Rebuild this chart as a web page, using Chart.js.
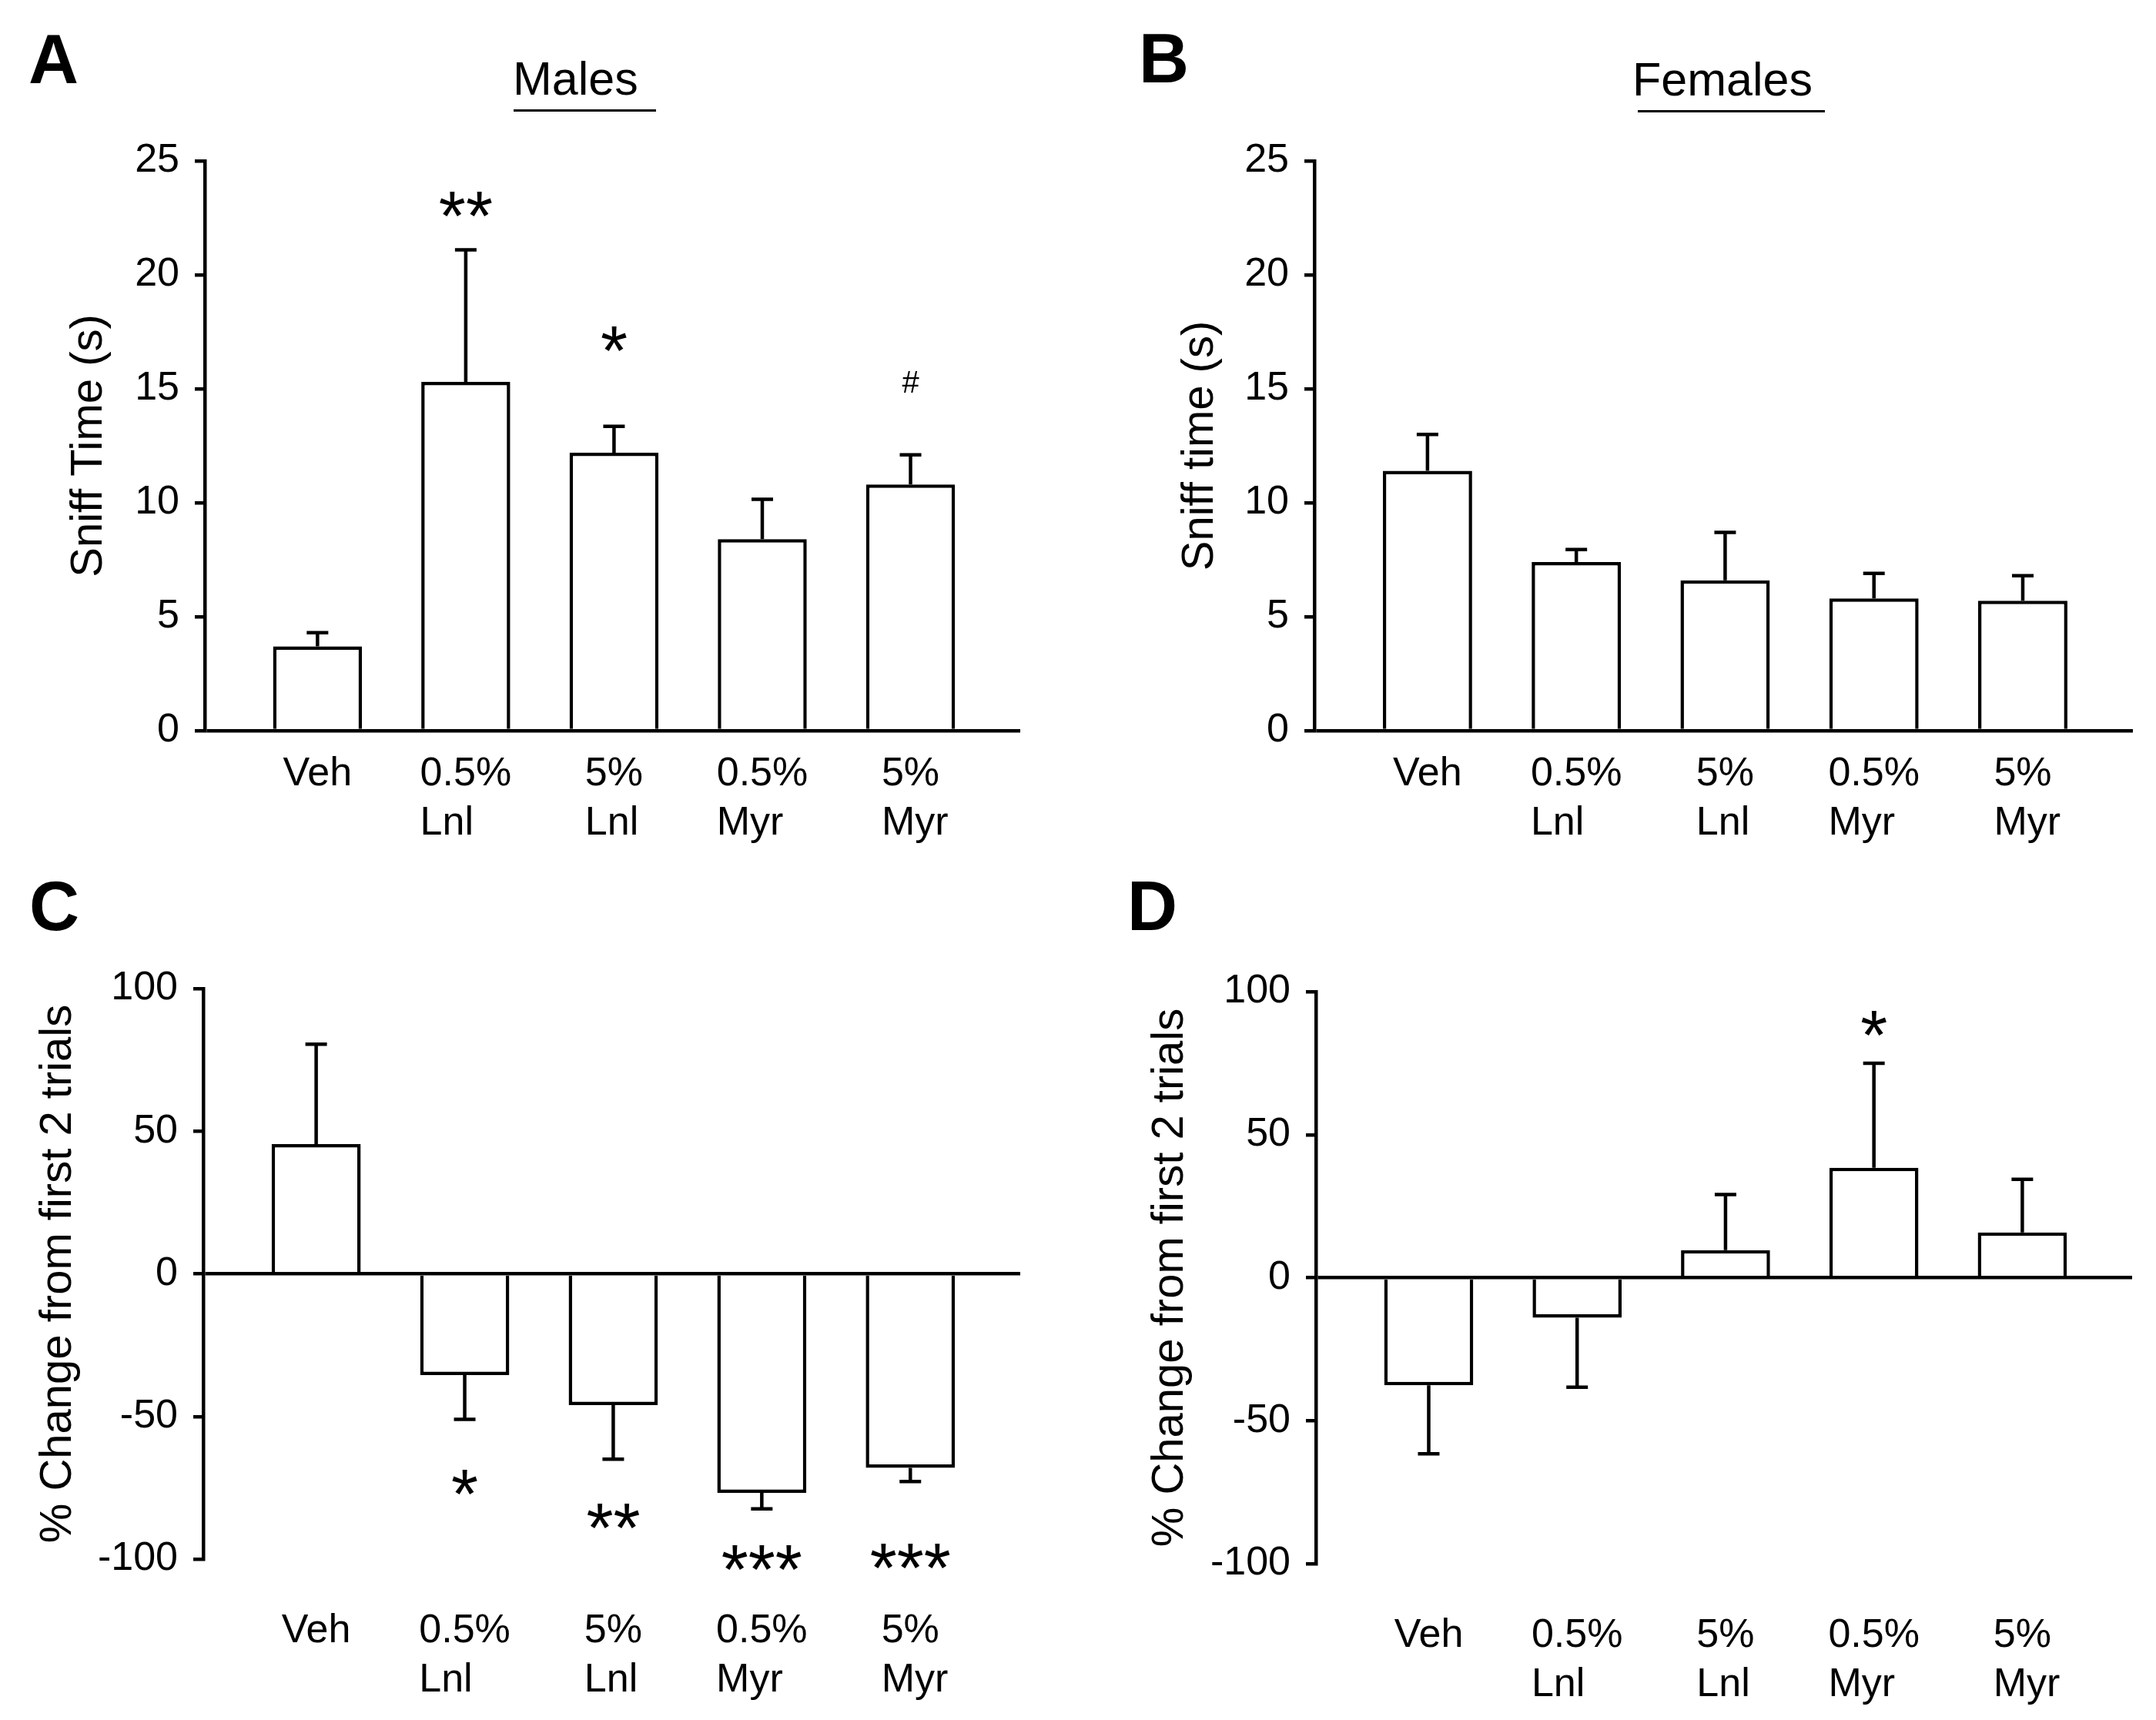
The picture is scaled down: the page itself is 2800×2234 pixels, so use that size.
<!DOCTYPE html>
<html>
<head>
<meta charset="utf-8">
<script src="https://cdn.jsdelivr.net/npm/chart.js@4.4.1/dist/chart.umd.min.js"></script>
<style>
  html, body { margin: 0; padding: 0; background: #fff; }
  body { width: 2800px; height: 2234px; position: relative; overflow: hidden;
         font-family: "Liberation Sans", Arial, sans-serif; color: #000; }
  canvas { position: absolute; }
  .letter { position: absolute; font-weight: bold; font-size: 90px; line-height: 1; }
  .title { position: absolute; font-size: 61px; line-height: 1; white-space: nowrap; }
  .rule { position: absolute; height: 3px; background: #000; }
</style>
</head>
<body>
<div class="letter" style="left:37px;top:32px">A</div>
<div class="letter" style="left:1479px;top:31px">B</div>
<div class="letter" style="left:38px;top:1132px">C</div>
<div class="letter" style="left:1464px;top:1132px">D</div>
<div class="title" style="left:666px;top:72px">Males</div>
<div class="rule" style="left:667px;top:142px;width:185px"></div>
<div class="title" style="left:2120px;top:73px">Females</div>
<div class="rule" style="left:2127px;top:143px;width:243px"></div>

<canvas id="chartA" width="1400" height="1117" style="left:0;top:0"></canvas>
<canvas id="chartB" width="1400" height="1117" style="left:1400px;top:0"></canvas>
<canvas id="chartC" width="1400" height="1117" style="left:0;top:1117px"></canvas>
<canvas id="chartD" width="1400" height="1117" style="left:1400px;top:1117px"></canvas>

<script>
const categories = [['Veh'], ['0.5%', 'Lnl'], ['5%', 'Lnl'], ['0.5%', 'Myr'], ['5%', 'Myr']];

// sniff time (s), mean and SEM
const maleSniff = [3.7, 15.3, 12.2, 8.4, 10.8];
const maleSniffErr = [0.6, 5.8, 1.15, 1.75, 1.3];
const femaleSniff = [11.4, 7.4, 6.6, 5.8, 5.7];
const femaleSniffErr = [1.6, 0.55, 2.1, 1.1, 1.1];

// % change from first 2 trials
const maleChange = [45.5, -35.5, -46, -76.8, -68];
const maleChangeErr = [35, 15.5, 19, 5.6, 4.8];
const femaleChange = [-37.6, -14, 9.6, 38.4, 15.8];
const femaleChangeErr = [24, 24.3, 19.5, 36.6, 18.6];

// significance marks and the value they sit at
const maleSniffMarks = ['', '**', '*', '', '#'];
const maleSniffMarkY = [null, 23.1, 17.2, null, 15.3];
const femaleSniffMarks = ['', '', '', '', ''];
const femaleSniffMarkY = [null, null, null, null, null];
const maleChangeMarks = ['', '*', '**', '***', '***'];
const maleChangeMarkY = [null, -73.1, -84.8, -99.4, -98.8];
const femaleChangeMarks = ['', '', '', '*', ''];
const femaleChangeMarkY = [null, null, null, 89, null];

const sniffRange = [0, 25];
const sniffStep = 5;
const changeRange = [-100, 100];
const changeStep = 50;

const FONT = '"Liberation Sans", Arial, sans-serif';
Chart.defaults.font.family = FONT;
Chart.defaults.color = '#000';

// error bars, stars and the two-line category labels
const marksPlugin = {
  id: 'marks',
  afterDatasetsDraw(chart, args, opts) {
    const {ctx, chartArea, scales: {x, y}} = chart;
    ctx.save();
    ctx.strokeStyle = '#000';
    ctx.fillStyle = '#000';
    ctx.lineWidth = 4.5;
    opts.values.forEach((v, i) => {
      const px = x.getPixelForValue(i);
      const end = v >= 0 ? v + opts.errors[i] : v - opts.errors[i];
      const y0 = y.getPixelForValue(v);
      const y1 = y.getPixelForValue(end);
      ctx.beginPath();
      ctx.moveTo(px, y0);
      ctx.lineTo(px, y1);
      ctx.moveTo(px - 14, y1);
      ctx.lineTo(px + 14, y1);
      ctx.stroke();
    });

    ctx.textAlign = 'center';
    ctx.textBaseline = 'alphabetic';
    opts.marks.forEach((m, i) => {
      if (!m) return;
      const size = m.startsWith('#') ? 40 : 90;
      ctx.font = size + 'px ' + FONT;
      const met = ctx.measureText(m);
      const py = y.getPixelForValue(opts.markY[i]);
      ctx.fillText(m, x.getPixelForValue(i), py + (met.actualBoundingBoxAscent - met.actualBoundingBoxDescent) / 2);
    });

    ctx.font = '52px ' + FONT;
    ctx.textAlign = 'left';
    categories.forEach((lines, i) => {
      const w = ctx.measureText(lines[0]).width;
      const left = x.getPixelForValue(i) - w / 2;
      lines.forEach((line, j) => {
        ctx.fillText(line, left, chartArea.bottom + opts.labelOffset + j * 64);
      });
    });
    ctx.restore();
  }
};

function makePanel(id, values, errors, marks, markY, yRange, yStep, yTitle, box) {
  const canvas = document.getElementById(id);
  return new Chart(canvas, {
    type: 'bar',
    data: {
      datasets: [{
        data: values.map((v, i) => ({x: i, y: v})),
        backgroundColor: '#fff',
        borderColor: '#000',
        borderWidth: 4.5,
        categoryPercentage: 0.6,
        barPercentage: 1
      }]
    },
    options: {
      responsive: false,
      animation: false,
      devicePixelRatio: 1,
      layout: { padding: { left: 0, top: box.top, right: canvas.width - box.right, bottom: 0 } },
      plugins: {
        legend: { display: false },
        tooltip: { enabled: false },
        marks: { values, errors, marks, markY, labelOffset: box.labelOffset }
      },
      scales: {
        x: {
          type: 'linear',
          min: -0.76,
          max: 4.74,
          offset: false,
          ticks: { display: false },
          grid: { display: false, offset: false },
          border: { display: false },
          afterBuildTicks: s => { s.ticks = categories.map((c, i) => ({value: i})); },
          afterFit: s => { s.height = canvas.height - box.bottom; }
        },
        y: {
          min: yRange[0],
          max: yRange[1],
          ticks: { stepSize: yStep, padding: 20, font: { size: 52 } },
          grid: {
            color: c => (c.tick && c.tick.value === 0) ? '#000' : 'rgba(0,0,0,0)',
            lineWidth: 4.5,
            tickLength: 13,
            tickColor: '#000',
            tickWidth: 4.5
          },
          border: { color: '#000', width: 4.5 },
          title: { display: true, text: yTitle, font: { size: 58 }, padding: { top: box.titleX - 34.8, bottom: 0 } },
          afterFit: s => { s.width = box.left; }
        }
      }
    },
    plugins: [marksPlugin]
  });
}

makePanel('chartA', maleSniff, maleSniffErr, maleSniffMarks, maleSniffMarkY, sniffRange, sniffStep,
  'Sniff Time (s)', { left: 266, top: 209, right: 1325, bottom: 949, titleX: 116, labelOffset: 71 });
makePanel('chartB', femaleSniff, femaleSniffErr, femaleSniffMarks, femaleSniffMarkY, sniffRange, sniffStep,
  'Sniff time (s)', { left: 307, top: 209, right: 1370, bottom: 949, titleX: 159, labelOffset: 71 });
makePanel('chartC', maleChange, maleChangeErr, maleChangeMarks, maleChangeMarkY, changeRange, changeStep,
  '% Change from first 2 trials', { left: 264, top: 167, right: 1325, bottom: 908, titleX: 76, labelOffset: 108 });
makePanel('chartD', femaleChange, femaleChangeErr, femaleChangeMarks, femaleChangeMarkY, changeRange, changeStep,
  '% Change from first 2 trials', { left: 309, top: 171, right: 1369, bottom: 914, titleX: 120, labelOffset: 108 });
</script>
</body>
</html>
